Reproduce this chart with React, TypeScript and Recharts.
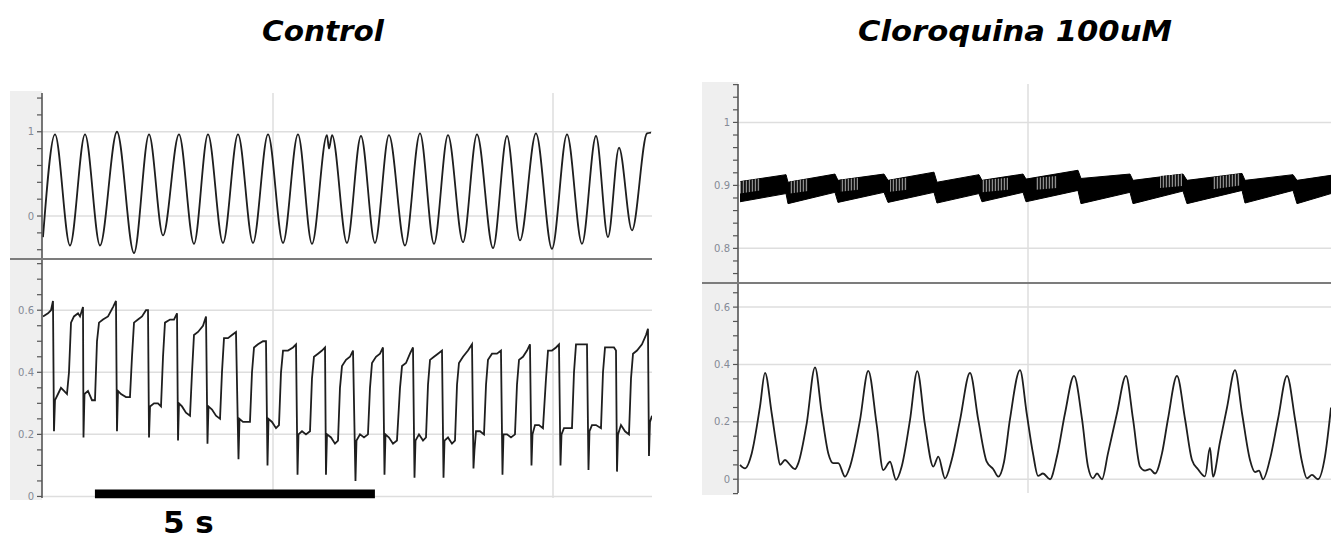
import React from "react";
import {
  ComposedChart,
  Line,
  Area,
  XAxis,
  YAxis,
  CartesianGrid,
  ReferenceArea,
} from "recharts";

// ---------- Control (left panel) : time in seconds ----------
const controlUpper: [number, number][] = [
  [0.893, -0.25], [1.107, 0.97], [1.375, -0.35], [1.643, 0.97], [1.911, -0.35],
  [2.214, 1.0], [2.518, -0.44], [2.786, 0.97], [3.036, -0.23], [3.321, 0.97],
  [3.589, -0.33], [3.839, 0.97], [4.107, -0.32], [4.375, 0.97], [4.643, -0.32],
  [4.911, 0.97], [5.179, -0.32], [5.446, 0.97], [5.696, -0.33], [5.964, 0.96],
  [6.0, 0.8], [6.054, 0.96], [6.321, -0.32], [6.571, 0.95], [6.821, -0.32],
  [7.071, 0.96], [7.357, -0.35], [7.625, 0.98], [7.875, -0.33], [8.125, 0.96],
  [8.393, -0.31], [8.643, 0.97], [8.929, -0.38], [9.179, 0.95], [9.411, -0.29],
  [9.696, 0.98], [9.982, -0.39], [10.25, 0.97], [10.518, -0.33], [10.768, 0.95],
  [10.982, -0.25], [11.179, 0.81], [11.411, -0.17], [11.679, 0.98], [11.75, 0.99],
];

const controlLower: [number, number][] = [
  [0.893, 0.58], [0.982, 0.59], [1.036, 0.6], [1.071, 0.63],
  [1.089, 0.21], [1.107, 0.31], [1.161, 0.33], [1.214, 0.35], [1.268, 0.34], [1.321, 0.33], [1.357, 0.4], [1.393, 0.56], [1.446, 0.58], [1.518, 0.59], [1.554, 0.58], [1.589, 0.6], [1.607, 0.61],
  [1.616, 0.19], [1.634, 0.33], [1.696, 0.34], [1.768, 0.31], [1.821, 0.31], [1.857, 0.5], [1.893, 0.56], [1.964, 0.57], [2.054, 0.58], [2.143, 0.61], [2.196, 0.63],
  [2.214, 0.21], [2.232, 0.34], [2.286, 0.33], [2.375, 0.32], [2.446, 0.32], [2.482, 0.45], [2.518, 0.56], [2.589, 0.57], [2.661, 0.58], [2.732, 0.6], [2.768, 0.6],
  [2.786, 0.19], [2.804, 0.29], [2.875, 0.3], [2.946, 0.3], [3.0, 0.29], [3.036, 0.45], [3.071, 0.56], [3.161, 0.57], [3.232, 0.57], [3.286, 0.59],
  [3.304, 0.18], [3.321, 0.3], [3.375, 0.29], [3.446, 0.27], [3.518, 0.26], [3.554, 0.4], [3.589, 0.52], [3.661, 0.53], [3.75, 0.55], [3.804, 0.58],
  [3.83, 0.17], [3.848, 0.29], [3.911, 0.28], [3.982, 0.26], [4.054, 0.25], [4.089, 0.4], [4.125, 0.51], [4.196, 0.51], [4.268, 0.52], [4.339, 0.53],
  [4.384, 0.12], [4.402, 0.25], [4.464, 0.24], [4.536, 0.24], [4.589, 0.24], [4.625, 0.4], [4.661, 0.48], [4.732, 0.49], [4.821, 0.5], [4.875, 0.5],
  [4.902, 0.1], [4.92, 0.25], [4.982, 0.24], [5.054, 0.22], [5.107, 0.23], [5.143, 0.4], [5.179, 0.47], [5.268, 0.47], [5.357, 0.48], [5.411, 0.49],
  [5.438, 0.07], [5.455, 0.2], [5.518, 0.21], [5.589, 0.2], [5.661, 0.21], [5.696, 0.38], [5.732, 0.45], [5.804, 0.46], [5.875, 0.47], [5.929, 0.48],
  [5.946, 0.07], [5.964, 0.2], [6.036, 0.19], [6.107, 0.17], [6.161, 0.18], [6.196, 0.35], [6.232, 0.42], [6.304, 0.44], [6.375, 0.45], [6.429, 0.47],
  [6.473, 0.05], [6.491, 0.18], [6.554, 0.2], [6.625, 0.19], [6.696, 0.2], [6.732, 0.35], [6.768, 0.43], [6.839, 0.45], [6.911, 0.46], [6.964, 0.48],
  [6.991, 0.07], [7.009, 0.2], [7.071, 0.19], [7.143, 0.17], [7.214, 0.18], [7.268, 0.35], [7.304, 0.42], [7.375, 0.43], [7.446, 0.46], [7.5, 0.48],
  [7.527, 0.06], [7.545, 0.18], [7.607, 0.2], [7.679, 0.18], [7.732, 0.19], [7.768, 0.36], [7.804, 0.44], [7.875, 0.45], [7.946, 0.46], [8.018, 0.47],
  [8.045, 0.06], [8.063, 0.18], [8.125, 0.19], [8.196, 0.17], [8.25, 0.18], [8.286, 0.36], [8.321, 0.43], [8.393, 0.45], [8.482, 0.47], [8.554, 0.49],
  [8.58, 0.09], [8.598, 0.15], [8.625, 0.21], [8.696, 0.21], [8.768, 0.2], [8.804, 0.36], [8.839, 0.44], [8.911, 0.46], [9.0, 0.46], [9.071, 0.47],
  [9.098, 0.07], [9.116, 0.2], [9.179, 0.2], [9.25, 0.19], [9.321, 0.2], [9.357, 0.36], [9.393, 0.44], [9.464, 0.45], [9.536, 0.47], [9.589, 0.49],
  [9.616, 0.1], [9.634, 0.2], [9.679, 0.23], [9.75, 0.23], [9.821, 0.22], [9.875, 0.38], [9.911, 0.47], [9.982, 0.47], [10.054, 0.48], [10.107, 0.49],
  [10.134, 0.1], [10.152, 0.2], [10.196, 0.22], [10.268, 0.22], [10.339, 0.22], [10.375, 0.4], [10.411, 0.49], [10.482, 0.49], [10.571, 0.49], [10.607, 0.49],
  [10.634, 0.085], [10.652, 0.21], [10.696, 0.23], [10.768, 0.23], [10.857, 0.22], [10.893, 0.4], [10.929, 0.48], [11.018, 0.48], [11.089, 0.48], [11.125, 0.47],
  [11.143, 0.08], [11.161, 0.2], [11.214, 0.23], [11.286, 0.21], [11.357, 0.2], [11.393, 0.38], [11.429, 0.46], [11.5, 0.47], [11.589, 0.49], [11.661, 0.52], [11.696, 0.54],
  [11.714, 0.13], [11.732, 0.24], [11.768, 0.26],
];

// ---------- Cloroquina 100uM (right panel) ----------
// upper trace: dense oscillation band [t, low, high]
const cloroUpperBand: [number, number, number][] = [
  [0.2, 0.874, 0.906], [0.967, 0.887, 0.917], [1.0, 0.871, 0.905],
  [1.783, 0.889, 0.918], [1.833, 0.873, 0.908], [2.6, 0.889, 0.918],
  [2.667, 0.873, 0.908], [3.433, 0.889, 0.921], [3.483, 0.872, 0.905],
  [4.183, 0.887, 0.917], [4.233, 0.874, 0.908], [4.917, 0.889, 0.918],
  [4.967, 0.874, 0.91], [5.833, 0.892, 0.924], [5.883, 0.871, 0.911],
  [6.7, 0.889, 0.918], [6.75, 0.871, 0.908], [7.583, 0.891, 0.918],
  [7.65, 0.871, 0.908], [8.567, 0.892, 0.919], [8.617, 0.872, 0.908],
  [9.417, 0.892, 0.917], [9.483, 0.871, 0.908], [10.05, 0.887, 0.916],
];
// sparser, hatched-looking stretches of the upper band: [tStart, tEnd, topStart, topEnd, depth]
const cloroUpperHatch: [number, number, number, number, number][] = [
  [0.2, 0.533, 0.906, 0.911, 0.019],
  [1.033, 1.333, 0.906, 0.91, 0.019],
  [1.867, 2.167, 0.909, 0.912, 0.019],
  [2.7, 2.983, 0.909, 0.912, 0.019],
  [4.233, 4.667, 0.908, 0.912, 0.019],
  [5.133, 5.483, 0.912, 0.915, 0.019],
  [6.367, 6.7, 0.915, 0.918, 0.019],
  [7.2, 7.567, 0.915, 0.918, 0.019],
  [8.083, 8.533, 0.913, 0.919, 0.019],
  [8.983, 9.417, 0.913, 0.917, 0.019],
  [9.867, 10.05, 0.914, 0.916, 0.019],
];

const cloroLower: [number, number][] = [
  [0.2, 0.05], [0.283, 0.038], [0.395, 0.09], [0.533, 0.253], [0.617, 0.371],
  [0.728, 0.23], [0.812, 0.113], [0.867, 0.05], [0.95, 0.067], [1.033, 0.05],
  [1.117, 0.035], [1.172, 0.056], [1.312, 0.195], [1.45, 0.39], [1.562, 0.23],
  [1.672, 0.09], [1.755, 0.056], [1.838, 0.056], [1.95, 0.009], [2.033, 0.044],
  [2.2, 0.206], [2.338, 0.378], [2.478, 0.19], [2.588, 0.032], [2.7, 0.061],
  [2.8, -0.002], [2.895, 0.044], [3.033, 0.206], [3.155, 0.377], [3.283, 0.19],
  [3.422, 0.044], [3.505, 0.079], [3.617, 0.003], [3.728, 0.067], [3.867, 0.206],
  [4.033, 0.371], [4.172, 0.206], [4.312, 0.061], [4.422, 0.035], [4.505, 0.009],
  [4.6, 0.06], [4.7, 0.21], [4.867, 0.38], [4.978, 0.23], [5.083, 0.09],
  [5.167, 0.012], [5.25, 0.02], [5.367, 0.0], [5.483, 0.08], [5.617, 0.23],
  [5.767, 0.36], [5.9, 0.21], [6.0, 0.044], [6.083, 0.003], [6.15, 0.02],
  [6.233, 0.0], [6.333, 0.09], [6.483, 0.23], [6.633, 0.36], [6.75, 0.21],
  [6.867, 0.044], [6.95, 0.03], [7.033, 0.035], [7.117, 0.02], [7.233, 0.09],
  [7.333, 0.21], [7.483, 0.36], [7.617, 0.21], [7.733, 0.067], [7.833, 0.035],
  [7.95, 0.01], [8.033, 0.11], [8.083, 0.009], [8.2, 0.13], [8.317, 0.25],
  [8.45, 0.38], [8.567, 0.23], [8.7, 0.067], [8.783, 0.025], [8.85, 0.03],
  [8.917, 0.0], [9.033, 0.07], [9.167, 0.21], [9.317, 0.36], [9.45, 0.21],
  [9.567, 0.06], [9.65, 0.003], [9.733, 0.015], [9.833, 0.0], [9.95, 0.08],
  [10.05, 0.25],
];

// axis ticks
const ctrlUpperTicks = [-0.4, -0.2, 0, 0.2, 0.4, 0.6, 0.8, 1, 1.2, 1.4];
const ctrlUpperLabels = [0, 1];
const ctrlLowerTicks = [0, 0.05, 0.1, 0.15, 0.2, 0.25, 0.3, 0.35, 0.4, 0.45, 0.5, 0.55, 0.6, 0.65, 0.7, 0.75];
const ctrlLowerLabels = [0, 0.2, 0.4, 0.6];
const cloroUpperTicks = [0.76, 0.78, 0.8, 0.82, 0.84, 0.86, 0.88, 0.9, 0.92, 0.94, 0.96, 0.98, 1, 1.02, 1.04, 1.06];
const cloroUpperLabels = [0.8, 0.9, 1];
const cloroLowerTicks = [-0.05, 0, 0.05, 0.1, 0.15, 0.2, 0.25, 0.3, 0.35, 0.4, 0.45, 0.5, 0.55, 0.6, 0.65];
const cloroLowerLabels = [0, 0.2, 0.4, 0.6];
const ctrlTimeGrid = [5, 10];
const cloroTimeGrid = [5];
const scaleBarStart = 1.82;
const scaleBarLength = 5; // seconds

const FONT = "'DejaVu Sans', Verdana, sans-serif";
const TRACE = "#1e1e1e";
const GRID = "#dedede";
const AXIS = "#555";

const fmt = (labels: number[]) => (v: number) =>
  labels.some((l) => Math.abs(l - v) < 1e-9) ? String(v) : "";

const yAxisProps = (ticks: number[], labels: number[], domain: [number, number], width: number) => ({
  type: "number" as const,
  domain,
  ticks,
  interval: 0 as const,
  allowDataOverflow: true,
  width,
  tickFormatter: fmt(labels),
  tick: { fontSize: 10, fill: "#858a96", fontFamily: FONT },
  tickLine: { stroke: AXIS, strokeWidth: 1.2 },
  tickSize: 5,
  tickMargin: 3,
  axisLine: { stroke: AXIS, strokeWidth: 1.6 },
});

const box = (left: number, top: number, width: number, height: number): React.CSSProperties => ({
  position: "absolute",
  left,
  top,
  width,
  height,
});

export default function App() {
  const cu = controlUpper.map(([t, v]) => ({ t, v }));
  const cl = controlLower.map(([t, v]) => ({ t, v }));
  const qu: { t: number; band?: [number, number]; hatch?: [number, number] }[] = [];
  cloroUpperBand.forEach(([t, lo, hi]) => qu.push({ t, band: [lo, hi] }));
  cloroUpperHatch.forEach(([t0, t1, h0, h1, d]) => {
    qu.push({ t: t0, hatch: [h0 - d, h0] });
    qu.push({ t: t1, hatch: [h1 - d, h1] });
    qu.push({ t: t1 + 0.0001 });
  });
  qu.sort((a, b) => a.t - b.t);
  const ql = cloroLower.map(([t, v]) => ({ t, v }));
  const ctrlX: [number, number] = [0.875, 11.768];
  const cloroX: [number, number] = [1 / 6, 10.05];
  const m = { top: 0, right: 0, bottom: 0, left: 0 };

  return (
    <div style={{ position: "absolute", left: 0, top: 0, width: 1331, height: 539, background: "#fff", overflow: "hidden" }}>
      <svg width={0} height={0} style={{ position: "absolute" }}>
        <defs>
          <pattern id="vhatch" patternUnits="userSpaceOnUse" width={3} height={6}>
            <rect x={0} y={0} width={3} height={6} fill="#8c8c8c" />
            <rect x={0} y={0} width={1.8} height={6} fill="#111" />
          </pattern>
        </defs>
      </svg>

      {/* grey axis strips */}
      <div style={{ ...box(10, 91, 32, 409), background: "#efefef" }} />
      <div style={{ ...box(702, 82, 36, 413), background: "#efefef" }} />

      {/* Control upper */}
      <div style={box(10, 93, 642, 166)}>
        <ComposedChart width={642} height={166} data={cu} margin={m}>
          <CartesianGrid horizontalValues={ctrlUpperLabels} verticalValues={ctrlTimeGrid} stroke={GRID} strokeWidth={1.5} />
          <XAxis dataKey="t" type="number" domain={ctrlX} hide allowDataOverflow />
          <YAxis {...yAxisProps(ctrlUpperTicks, ctrlUpperLabels, [-0.51, 1.46], 32)} />
          <Line dataKey="v" type="monotone" stroke={TRACE} strokeWidth={1.8} dot={false} isAnimationActive={false} />
        </ComposedChart>
      </div>

      {/* Control lower */}
      <div style={box(10, 259, 642, 252)}>
        <ComposedChart width={642} height={252} data={cl} margin={{ top: 0, right: 0, bottom: 13, left: 0 }}>
          <CartesianGrid horizontalValues={ctrlLowerLabels} verticalValues={ctrlTimeGrid} stroke={GRID} strokeWidth={1.5} />
          <XAxis dataKey="t" type="number" domain={ctrlX} hide allowDataOverflow />
          <YAxis {...yAxisProps(ctrlLowerTicks, ctrlLowerLabels, [-0.005, 0.765], 32)} />
          <Line dataKey="v" type="linear" stroke={TRACE} strokeWidth={1.8} dot={false} isAnimationActive={false} />
          <ReferenceArea
            x1={scaleBarStart}
            x2={scaleBarStart + scaleBarLength}
            y1={-0.006}
            y2={0.022}
            fill="#000"
            fillOpacity={1}
            stroke="none"
            ifOverflow="visible"
          />
        </ComposedChart>
      </div>

      {/* Cloroquina upper */}
      <div style={box(702, 84, 629, 199)}>
        <ComposedChart width={629} height={199} data={qu} margin={m}>
          <CartesianGrid horizontalValues={cloroUpperLabels} verticalValues={cloroTimeGrid} stroke={GRID} strokeWidth={1.5} />
          <XAxis dataKey="t" type="number" domain={cloroX} hide allowDataOverflow />
          <YAxis {...yAxisProps(cloroUpperTicks, cloroUpperLabels, [0.745, 1.061], 36)} />
          <Area dataKey="band" type="linear" connectNulls stroke="#000" strokeWidth={1} fill="#000" fillOpacity={1} dot={false} isAnimationActive={false} />
          <Area dataKey="hatch" type="linear" stroke="none" fill="url(#vhatch)" fillOpacity={1} dot={false} isAnimationActive={false} />
        </ComposedChart>
      </div>

      {/* Cloroquina lower */}
      <div style={box(702, 283, 629, 222)}>
        <ComposedChart width={629} height={222} data={ql} margin={{ top: 0, right: 0, bottom: 12, left: 0 }}>
          <CartesianGrid horizontalValues={cloroLowerLabels} verticalValues={cloroTimeGrid} stroke={GRID} strokeWidth={1.5} />
          <XAxis dataKey="t" type="number" domain={cloroX} hide allowDataOverflow />
          <YAxis {...yAxisProps(cloroLowerTicks, cloroLowerLabels, [-0.048, 0.684], 36)} />
          <Line dataKey="v" type="monotone" stroke={TRACE} strokeWidth={1.8} dot={false} isAnimationActive={false} />
        </ComposedChart>
      </div>

      {/* separators between upper and lower traces */}
      <div style={{ ...box(10, 258, 642, 2), background: "#7c7c7c" }} />
      <div style={{ ...box(702, 282, 629, 2), background: "#7c7c7c" }} />

      <svg width={1331} height={539} style={{ position: "absolute", left: 0, top: 0, pointerEvents: "none" }}>
        <text x={323} y={41} textAnchor="middle" fontFamily={FONT} fontSize={29} fontWeight="bold" fontStyle="italic" fill="#000" textLength={122} lengthAdjust="spacingAndGlyphs">
          Control
        </text>
        <text x={1015} y={41} textAnchor="middle" fontFamily={FONT} fontSize={29} fontWeight="bold" fontStyle="italic" fill="#000" textLength={314} lengthAdjust="spacingAndGlyphs">
          Cloroquina 100uM
        </text>
        <text x={163} y={533} fontFamily={FONT} fontSize={31} fontWeight="bold" fill="#000">
          5 s
        </text>
      </svg>
    </div>
  );
}
